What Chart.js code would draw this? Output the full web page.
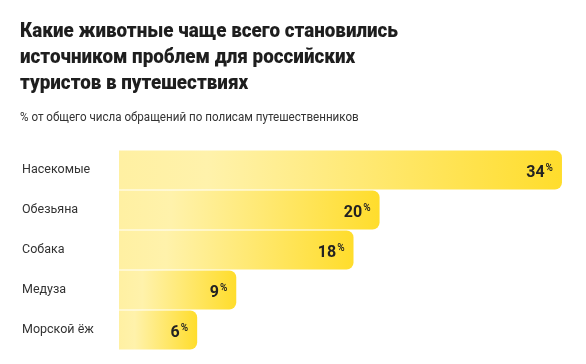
<!DOCTYPE html>
<html>
<head>
<meta charset="utf-8">
<script src="https://cdn.jsdelivr.net/npm/chart.js@4/dist/chart.umd.min.js"></script>
<style>
  html, body { margin: 0; padding: 0; background: #fff; }
  #wrap { width: 586px; height: 364px; position: relative; }
</style>
</head>
<body>
<div id="wrap"><canvas id="animalsChart"></canvas></div>
<script>
// данные
var categories = ["Насекомые", "Обезьяна", "Собака", "Медуза", "Морской ёж"];
var shares = [34, 20, 18, 9, 6];
var titleLines = [
  "Какие животные чаще всего становились",
  "источником проблем для российских",
  "туристов в путешествиях"
];
var subtitleText = "% от общего числа обращений по полисам путешественников";

// заголовок и подзаголовок в узком начертании (сжимаем по горизонтали)
var headerText = {
  id: "headerText",
  afterDraw: function (chart) {
    var ctx = chart.ctx;
    ctx.save();
    ctx.fillStyle = "#1e1e1e";
    ctx.textAlign = "left";
    ctx.textBaseline = "alphabetic";
    ctx.font = "900 20px Roboto";
    var target = 378;
    var w0 = ctx.measureText(titleLines[0]).width;
    var sx = target / w0;
    titleLines.forEach(function (line, i) {
      ctx.save();
      ctx.translate(20, 36.5 + i * 26.4);
      ctx.scale(sx, 1);
      ctx.fillText(line, 0, 0);
      ctx.restore();
    });
    ctx.fillStyle = "#333333";
    ctx.font = "13.5px Roboto";
    ctx.translate(20, 121);
    ctx.scale(0.86, 1);
    ctx.fillText(subtitleText, 0, 0);
    ctx.restore();
  }
};

// подписи значений: число + маленький знак процента
var valueLabels = {
  id: "valueLabels",
  afterDatasetsDraw: function (chart) {
    var ctx = chart.ctx;
    var meta = chart.getDatasetMeta(0);
    ctx.save();
    ctx.fillStyle = "#222222";
    ctx.textBaseline = "alphabetic";
    meta.data.forEach(function (bar, i) {
      var xRight = bar.x - 9;
      var yBase = bar.y + 6.5;
      ctx.font = "600 10px Roboto";
      ctx.textAlign = "right";
      ctx.fillText("%", xRight, yBase - 6);
      var pw = ctx.measureText("%").width;
      ctx.font = "bold 16px Roboto";
      ctx.fillText(String(shares[i]), xRight - pw - 1, yBase);
    });
    ctx.restore();
  }
};

var ctx1 = document.getElementById("animalsChart").getContext("2d");
var animalsChart = new Chart(ctx1, {
  type: "bar",
  data: {
    labels: categories,
    datasets: [
      {
        data: shares,
        backgroundColor: function (c) {
          var chart = c.chart;
          var xs = chart.scales.x;
          if (!chart.chartArea || !xs) return "#ffe34d";
          var x0 = xs.getPixelForValue(0);
          var x1 = xs.getPixelForValue(shares[c.dataIndex]);
          var g = chart.ctx.createLinearGradient(x0, 0, x1, 0);
          g.addColorStop(0, "#fff0a2");
          g.addColorStop(0.2, "#fff2ab");
          g.addColorStop(1, "#ffdd2c");
          return g;
        },
        borderRadius: 7,
        borderSkipped: "start",
        barPercentage: 0.975,
        categoryPercentage: 1,
      },
    ],
  },
  options: {
    indexAxis: "y",
    responsive: true,
    maintainAspectRatio: false,
    animation: false,
    layout: {
      padding: { left: 22, right: 11, top: 150, bottom: 14 },
    },
    plugins: {
      legend: { display: false },
      tooltip: { enabled: false },
      title: { display: false },
    },
    scales: {
      x: {
        display: false,
        min: 0,
        max: 35,
      },
      y: {
        grid: { display: false },
        border: { display: false },
        ticks: {
          crossAlign: "far",
          color: "#333333",
          font: { family: "Roboto", size: 12.5 },
        },
        afterFit: function (scale) {
          scale.width = 97;
        },
      },
    },
  },
  plugins: [valueLabels, headerText],
});
</script>
</body>
</html>
